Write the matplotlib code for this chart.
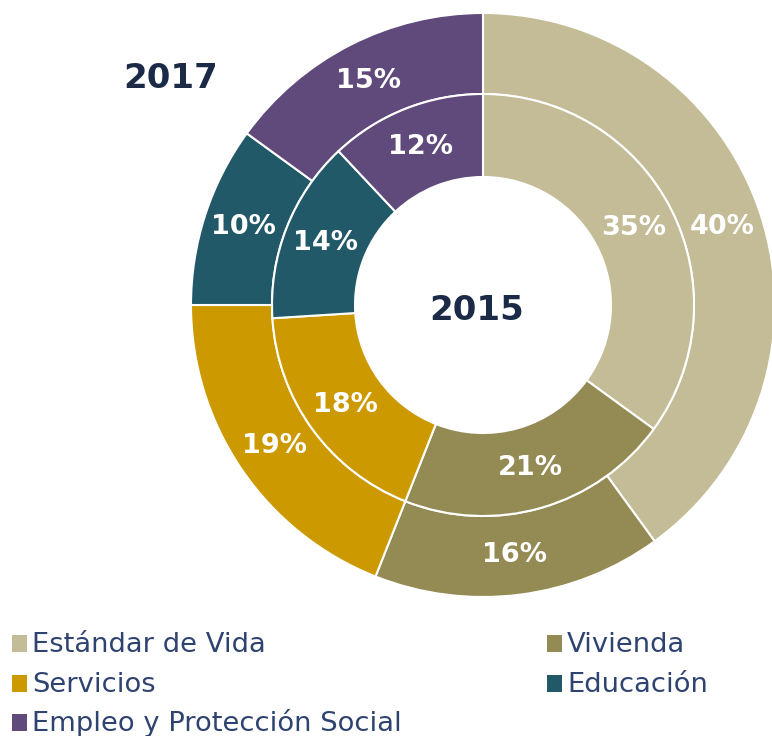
import matplotlib.pyplot as plt
from matplotlib.patches import Rectangle

# Data
categories = ['Estándar de Vida', 'Vivienda', 'Servicios', 'Educación', 'Empleo y Protección Social']
values_2017 = [40, 16, 19, 10, 15]   # outer ring
values_2015 = [35, 21, 18, 14, 12]   # inner ring
colors = ['#C4BC97', '#948A54', '#CC9900', '#215968', '#604A7B']

W, H = 772, 736
fig = plt.figure(figsize=(W / 100, H / 100), dpi=100)

# donut centre at (483, 305) px, outer radius 292 px
cx, cy, R = 483, 305, 292
ax = fig.add_axes([(cx - R) / W, (H - cy - R) / H, 2 * R / W, 2 * R / H])

r_mid = 211 / R
r_hole = 128 / R
lbl = dict(color='white', fontsize=19.5, fontweight='bold')

ax.pie(values_2017, radius=1.0, colors=colors, startangle=90, counterclock=False,
       wedgeprops=dict(width=1.0 - r_mid, edgecolor='white', linewidth=1.5),
       autopct=lambda p: f'{p:.0f}%', pctdistance=(1.0 + r_mid) / 2, textprops=lbl)
ax.pie(values_2015, radius=r_mid, colors=colors, startangle=90, counterclock=False,
       wedgeprops=dict(width=r_mid - r_hole, edgecolor='white', linewidth=1.5),
       autopct=lambda p: f'{p:.0f}%', pctdistance=(r_mid + r_hole) / 2 / r_mid,
       textprops=lbl)
ax.set_xlim(-1, 1)
ax.set_ylim(-1, 1)
ax.set_aspect('equal')
ax.axis('off')

year_color = '#1B2A47'
fig.text(171 / W, 1 - 78 / H, '2017', ha='center', va='center',
         fontsize=24.5, fontweight='bold', color=year_color)
fig.text(477 / W, 1 - 310 / H, '2015', ha='center', va='center',
         fontsize=24.5, fontweight='bold', color=year_color)

# legend, two columns
legend_color = '#2F4370'
col_x = [12, 547]
row_base = [652, 692, 731]
for i, (name, c) in enumerate(zip(categories, colors)):
    x = col_x[i % 2]
    yb = row_base[i // 2]
    fig.patches.append(Rectangle((x / W, 1 - yb / H), 15 / W, 17 / H,
                                 transform=fig.transFigure, facecolor=c,
                                 edgecolor='none'))
    fig.text((x + 20) / W, 1 - yb / H, name, ha='left', va='baseline',
             fontsize=19.7, color=legend_color)

fig.savefig('out.png', dpi=100)
